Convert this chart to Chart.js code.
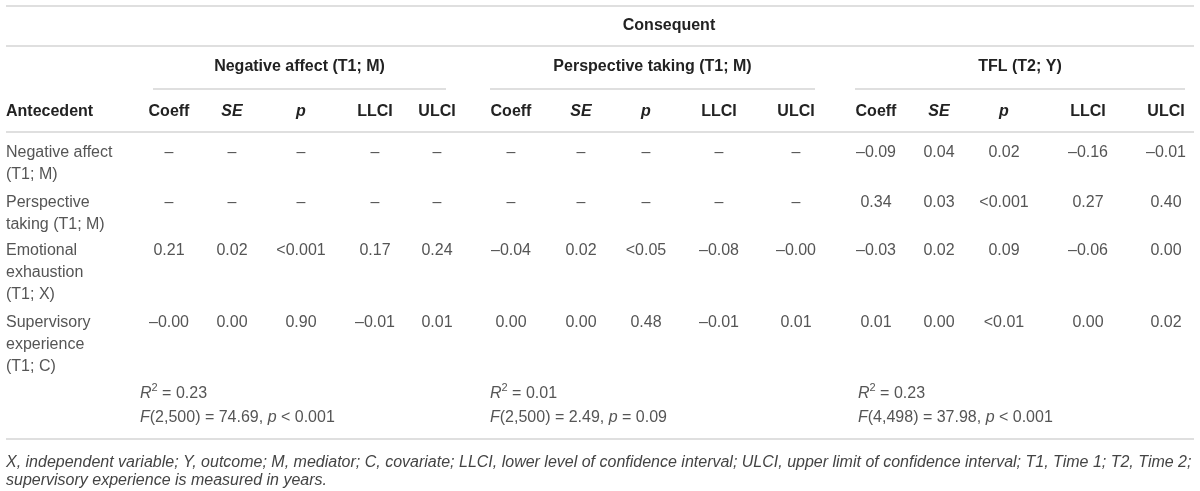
<!DOCTYPE html>
<html>
<head>
<meta charset="utf-8">
<script src="https://cdn.jsdelivr.net/npm/chart.js@4.4.1/dist/chart.umd.min.js"></script>
<style>
  html, body { margin: 0; padding: 0; background: #fff; }
  #wrap { width: 1200px; height: 491px; }
</style>
</head>
<body>
<div id="wrap"><canvas id="tbl"></canvas></div>
<script>
// table content
var consequents = ['Negative affect (T1; M)', 'Perspective taking (T1; M)', 'TFL (T2; Y)'];
var statCols = ['Coeff', 'SE', 'p', 'LLCI', 'ULCI'];
var italicStats = ['SE', 'p'];
var antecedents = [
    ['Negative affect', '(T1; M)'],
    ['Perspective', 'taking (T1; M)'],
    ['Emotional', 'exhaustion', '(T1; X)'],
    ['Supervisory', 'experience', '(T1; C)']
];
var negAffectRow   = ['–', '–', '–', '–', '–',   '–', '–', '–', '–', '–',   '–0.09', '0.04', '0.02', '–0.16', '–0.01'];
var perspectiveRow = ['–', '–', '–', '–', '–',   '–', '–', '–', '–', '–',   '0.34', '0.03', '<0.001', '0.27', '0.40'];
var exhaustionRow  = ['0.21', '0.02', '<0.001', '0.17', '0.24',   '–0.04', '0.02', '<0.05', '–0.08', '–0.00',   '–0.03', '0.02', '0.09', '–0.06', '0.00'];
var experienceRow  = ['–0.00', '0.00', '0.90', '–0.01', '0.01',   '0.00', '0.00', '0.48', '–0.01', '0.01',   '0.01', '0.00', '<0.01', '0.00', '0.02'];
var rSquared = ['0.23', '0.01', '0.23'];
var fDf   = ['2,500', '2,500', '4,498'];
var fVal  = ['74.69', '2.49', '37.98'];
var fPrel = ['<', '=', '<'];
var fP    = ['0.001', '0.09', '0.001'];
var footnote = [
    'X, independent variable; Y, outcome; M, mediator; C, covariate; LLCI, lower level of confidence interval; ULCI, upper limit of confidence interval; T1, Time 1; T2, Time 2;',
    'supervisory experience is measured in years.'
];

// layout (table units = px on the 1200 x 491 grid)
var colX = [169, 232, 301, 375, 437, 511, 581, 646, 719, 796, 876, 939, 1004, 1088, 1166];
var groupSpan = [[153, 446], [490, 815], [855, 1185]];
var statLeft = [140, 490, 858];
var rowTop = [153, 203, 251, 323];
var lineH = 22;

var valueRows = [negAffectRow, perspectiveRow, exhaustionRow, experienceRow];
var cells = [];
valueRows.forEach(function (row, i) {
    row.forEach(function (v, j) {
        cells.push({x: colX[j], y: rowTop[i], t: v});
    });
});

var FAM = '"Liberation Sans", Arial, sans-serif';
var TXT = '#555';
var HEAD = '#222';
var RULE = '#d4d4d4';

function fontFor(s) {
    if (s === 'b') return 'bold 16px ' + FAM;
    if (s === 'bi') return 'italic bold 16px ' + FAM;
    if (s === 'i') return 'italic 16px ' + FAM;
    if (s === 'sup') return '11px ' + FAM;
    if (s === 'fn') return 'italic 16px ' + FAM;
    return '16px ' + FAM;
}

// draw a run of mixed-style text pieces starting at x
function runs(ctx, parts, x, y) {
    var cx = x;
    ctx.textAlign = 'left';
    parts.forEach(function (p) {
        ctx.font = fontFor(p[1]);
        ctx.fillText(p[0], cx, p[1] === 'sup' ? y - 6 : y);
        cx += ctx.measureText(p[0]).width;
    });
}

var tablePlugin = {
    id: 'tablePlugin',
    afterDatasetsDraw: function (chart) {
        var ctx = chart.ctx;
        var xs = chart.scales.x, ys = chart.scales.y;
        var X = function (v) { return xs.getPixelForValue(v); };
        var Y = function (v) { return ys.getPixelForValue(v); };
        ctx.save();
        ctx.textBaseline = 'middle';

        // rules
        ctx.strokeStyle = RULE;
        ctx.lineWidth = 1.5;
        function hline(x0, x1, y) {
            ctx.beginPath();
            ctx.moveTo(X(x0), Y(y));
            ctx.lineTo(X(x1), Y(y));
            ctx.stroke();
        }
        hline(6, 1194, 6);
        hline(6, 1194, 46);
        groupSpan.forEach(function (s) { hline(s[0], s[1], 89); });
        hline(6, 1194, 132);
        hline(6, 1194, 439);

        // headers
        ctx.fillStyle = HEAD;
        ctx.textAlign = 'center';
        ctx.font = fontFor('b');
        ctx.fillText('Consequent', X(669), Y(26));
        consequents.forEach(function (c, g) {
            ctx.fillText(c, X((groupSpan[g][0] + groupSpan[g][1]) / 2), Y(67));
        });
        ctx.textAlign = 'left';
        ctx.fillText('Antecedent', X(6), Y(112));
        ctx.textAlign = 'center';
        colX.forEach(function (cx, j) {
            var s = statCols[j % 5];
            ctx.font = fontFor(italicStats.indexOf(s) >= 0 ? 'bi' : 'b');
            ctx.fillText(s, X(cx), Y(112));
        });

        // antecedent labels
        ctx.fillStyle = TXT;
        ctx.font = fontFor('');
        ctx.textAlign = 'left';
        antecedents.forEach(function (lines, i) {
            lines.forEach(function (l, k) {
                ctx.fillText(l, X(6), Y(rowTop[i] + k * lineH));
            });
        });

        // cell values, placed at the dataset points
        var meta = chart.getDatasetMeta(0);
        ctx.textAlign = 'center';
        meta.data.forEach(function (el, i) {
            ctx.fillText(cells[i].t, el.x, el.y);
        });

        // model fit
        statLeft.forEach(function (lx, g) {
            runs(ctx, [['R', 'i'], ['2', 'sup'], [' = ' + rSquared[g], '']], X(lx), Y(394));
            runs(ctx, [['F', 'i'], ['(' + fDf[g] + ') = ' + fVal[g] + ', ', ''], ['p', 'i'], [' ' + fPrel[g] + ' ' + fP[g], '']], X(lx), Y(418));
        });

        // footnote
        ctx.fillStyle = '#444';
        ctx.font = fontFor('fn');
        ctx.textAlign = 'left';
        footnote.forEach(function (l, k) {
            ctx.fillText(l, X(6), Y(463 + k * 18));
        });
        ctx.restore();
    }
};

new Chart(document.getElementById('tbl'), {
    type: 'scatter',
    data: {
        datasets: [{
            data: cells,
            pointRadius: 0,
            pointHoverRadius: 0
        }]
    },
    options: {
        responsive: true,
        maintainAspectRatio: false,
        animation: false,
        events: [],
        layout: { padding: 0 },
        plugins: { legend: { display: false }, tooltip: { enabled: false } },
        scales: {
            x: { type: 'linear', min: 0, max: 1200, display: false },
            y: { type: 'linear', min: 0, max: 491, reverse: true, display: false }
        }
    },
    plugins: [tablePlugin]
});
</script>
</body>
</html>
